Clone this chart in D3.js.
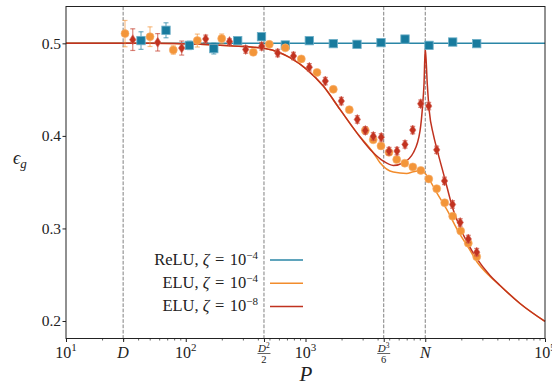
<!DOCTYPE html>
<html><head><meta charset="utf-8">
<script src="https://cdn.jsdelivr.net/npm/d3@7"></script>
<style>body{margin:0;background:#fff} svg text{font-family:"Liberation Serif","Times New Roman",serif !important;fill:#222}</style>
</head><body><svg id="c" width="552" height="387" font-family="Liberation Serif, serif"></svg>
<script>
// ---- theory curves ----
const reluCurveP = [10, 100000];
const reluCurveE = [0.5, 0.5];
const elu4CurveP = [10, 50, 131.5, 234, 450, 612, 742, 1023, 1408, 1941, 2677, 3683, 4190, 5410, 6998, 7948, 9341, 10283, 12460, 15110, 19510, 22880, 26900, 34730, 42100, 61830, 100000];
const elu4CurveE = [0.5, 0.5, 0.4989, 0.4973, 0.4946, 0.4899, 0.4845, 0.4719, 0.4538, 0.4286, 0.4035, 0.3818, 0.3710, 0.3609, 0.3595, 0.3613, 0.3627, 0.3573, 0.3386, 0.3205, 0.2935, 0.2795, 0.2643, 0.2481, 0.2384, 0.2189, 0.1995];
const elu8CurveP = [10, 50, 131.5, 234, 450, 612, 742, 1023, 1408, 1941, 2677, 3683, 4464, 5410, 6557, 7948, 9036, 9521, 9763, 10000, 10401, 10809, 11675, 12537, 14480, 16890, 19510, 22880, 26900, 34730, 42100, 61830, 100000];
const elu8CurveE = [0.5, 0.5, 0.4989, 0.4973, 0.4946, 0.4899, 0.4845, 0.4719, 0.4538, 0.4286, 0.4035, 0.3818, 0.3728, 0.3681, 0.3710, 0.3818, 0.4052, 0.4341, 0.4557, 0.495, 0.4557, 0.4268, 0.4016, 0.3854, 0.3551, 0.3227, 0.3011, 0.2827, 0.2676, 0.2492, 0.2384, 0.2189, 0.1995];

// ---- simulation points ----
const reluPtsP = [42.3, 68.4, 107.1, 171.5, 271.5, 429.1, 678.2, 1076, 1707, 2692, 4271, 6776, 10750, 16950, 26900];
const reluPtsE = [0.503, 0.5141, 0.4978, 0.4943, 0.5029, 0.5072, 0.4982, 0.5029, 0.4997, 0.4989, 0.5008, 0.5046, 0.4978, 0.5014, 0.4997];
const reluPtsErr = [0.0095, 0.0081, 0.0045, 0.0058, 0.003, 0.002, 0.002, 0.002, 0.002, 0.002, 0.002, 0.002, 0.002, 0.002, 0.002];

const elu4PtsP = [31.1, 50.3, 78.7, 124.9, 199.6, 366.6, 498.5, 678.2, 922.5, 1247, 1707, 2322, 3158, 3676, 4271, 4982, 5776, 6750, 7873, 9180, 10705, 12460, 14540, 16950, 19770, 22880, 26900];
const elu4PtsE = [0.5105, 0.5072, 0.4928, 0.503, 0.5051, 0.4903, 0.4989, 0.4951, 0.4832, 0.4686, 0.4503, 0.4283, 0.4059, 0.3958, 0.3892, 0.3822, 0.3744, 0.3705, 0.3665, 0.3627, 0.3535, 0.343, 0.3278, 0.3133, 0.2973, 0.2841, 0.2694];
const elu4PtsErr = [0.0142, 0.0106, 0.0045, 0.007, 0.005, 0.003, 0.002, 0.002, 0.002, 0.002, 0.002, 0.002, 0.002, 0.002, 0.002, 0.002, 0.002, 0.002, 0.002, 0.002, 0.002, 0.002, 0.002, 0.002, 0.002, 0.002, 0.002];

const elu8PtsP = [36.1, 58.3, 92.5, 146.7, 231.9, 316.7, 430.7, 586, 793.8, 1076, 1463, 1991, 2707, 3158, 3683, 4288, 4982, 5809, 6776, 7858, 9162, 10686, 12460, 14480, 16890, 19590, 22880, 26900];
const elu8PtsE = [0.504, 0.5011, 0.4949, 0.5048, 0.5019, 0.4933, 0.4968, 0.4895, 0.4863, 0.4741, 0.4592, 0.4376, 0.4178, 0.4059, 0.3995, 0.3984, 0.3836, 0.3836, 0.3908, 0.4063, 0.4348, 0.4322, 0.3849, 0.3514, 0.3259, 0.3065, 0.2886, 0.2744];
const elu8PtsErr = [0.0117, 0.0094, 0.0076, 0.0041, 0.003, 0.004, 0.004, 0.004, 0.004, 0.004, 0.004, 0.004, 0.004, 0.004, 0.004, 0.004, 0.004, 0.004, 0.004, 0.004, 0.004, 0.004, 0.004, 0.004, 0.004, 0.004, 0.004, 0.004];

// ---- ticks / annotations ----
const yTicks = [0.2, 0.3, 0.4, 0.5];
const xPowerTicks = [10, 100, 1000, 100000];
const xPowerExp = ["1", "2", "3", "5"];
const refLines = [30, 450, 4500, 10000]; // D, D^2/2, D^3/6, N
const legendLabels = ["ReLU, ", "ELU, ", "ELU, "];
const legendExp = ["\u22124", "\u22124", "\u22128"];

const teal = "#187b9e", orange = "#f39539", red = "#c2321f";
const tealLine = "#2a86a6", orangeLine = "#f28c2c", redLine = "#c0321f";

const svg = d3.select("#c");
const x = d3.scaleLog().domain([10, 1e5]).range([66, 545]);
const y = d3.scaleLinear().domain([0.1811, 0.5398]).range([338.5, 6.5]);

// reference dashed lines
svg.append("g").selectAll("line").data(refLines).join("line")
  .attr("x1", d => x(d)).attr("x2", d => x(d)).attr("y1", 6.5).attr("y2", 338.5)
  .attr("stroke", "#808080").attr("stroke-width", 1).attr("stroke-dasharray", "3.7,1.6");

// curves
const line = d3.line().x(d => x(d[0])).y(d => y(d[1])).curve(d3.curveMonotoneX);
function curve(P, E, color) {
  svg.append("path").datum(P.map((p, i) => [p, E[i]])).attr("d", line)
    .attr("fill", "none").attr("stroke", color).attr("stroke-width", 1.5);
}
curve(reluCurveP, reluCurveE, tealLine);
curve(elu4CurveP, elu4CurveE, orangeLine);
curve(elu8CurveP, elu8CurveE, redLine);

// error bars + markers
function errbars(P, E, Er, color) {
  const g = svg.append("g").attr("stroke", color).attr("stroke-opacity", 0.6).attr("stroke-width", 1.2);
  P.forEach((p, i) => {
    const cx = x(p), y1 = y(E[i] + Er[i]), y2 = y(E[i] - Er[i]);
    g.append("line").attr("x1", cx).attr("x2", cx).attr("y1", y1).attr("y2", y2);
    g.append("line").attr("x1", cx - 2.5).attr("x2", cx + 2.5).attr("y1", y1).attr("y2", y1);
    g.append("line").attr("x1", cx - 2.5).attr("x2", cx + 2.5).attr("y1", y2).attr("y2", y2);
  });
}
errbars(reluPtsP, reluPtsE, reluPtsErr, teal);
svg.append("g").selectAll("rect").data(reluPtsP.map((p, i) => [p, reluPtsE[i]])).join("rect")
  .attr("x", d => x(d[0]) - 4.2).attr("y", d => y(d[1]) - 4.2).attr("width", 8.4).attr("height", 8.4)
  .attr("fill", teal).attr("stroke", "#6fb0c8").attr("stroke-width", 0.8);

errbars(elu4PtsP, elu4PtsE, elu4PtsErr, orange);
svg.append("g").selectAll("circle").data(elu4PtsP.map((p, i) => [p, elu4PtsE[i]])).join("circle")
  .attr("cx", d => x(d[0])).attr("cy", d => y(d[1])).attr("r", 4)
  .attr("fill", orange).attr("stroke", "#f6b070").attr("stroke-width", 0.6);

errbars(elu8PtsP, elu8PtsE, elu8PtsErr, red);
svg.append("g").selectAll("path").data(elu8PtsP.map((p, i) => [p, elu8PtsE[i]])).join("path")
  .attr("d", d => { const cx = x(d[0]), cy = y(d[1]); return `M${cx},${cy-5}L${cx+3.2},${cy}L${cx},${cy+5}L${cx-3.2},${cy}Z`; })
  .attr("fill", red).attr("stroke", "#d46a5c").attr("stroke-width", 0.6);

// frame
svg.append("rect").attr("x", 66).attr("y", 6.5).attr("width", 479).attr("height", 332)
  .attr("fill", "none").attr("stroke", "#222").attr("stroke-width", 1);

// y axis
const yAxis = svg.append("g").attr("transform", "translate(66,0)")
  .call(d3.axisLeft(y).tickValues(yTicks).tickSize(3.5).tickFormat(d3.format(".1f")));
yAxis.attr("font-family", "Liberation Serif, serif");
yAxis.select(".domain").remove();
yAxis.selectAll("text").attr("font-size", 15.5).attr("x", -5).attr("fill", "#222");
yAxis.selectAll("line").attr("stroke", "#222");

// x axis major + minor ticks
const minor = [];
[10, 100, 1000, 10000].forEach(b => { for (let k = 2; k <= 9; k++) minor.push(b * k); });
const xMinor = svg.append("g").attr("transform", "translate(0,338.5)")
  .call(d3.axisBottom(x).tickValues(minor).tickSize(2).tickFormat(""));
xMinor.select(".domain").remove();
xMinor.selectAll("line").attr("stroke", "#222").attr("stroke-width", 0.7);
const xMajor = svg.append("g").attr("transform", "translate(0,338.5)")
  .call(d3.axisBottom(x).tickValues(xPowerTicks.concat(refLines)).tickSize(3.5).tickFormat(""));
xMajor.select(".domain").remove();
xMajor.selectAll("line").attr("stroke", "#222");

// x tick labels
const lab = svg.append("g").attr("font-size", 16);
xPowerTicks.forEach((v, i) => {
  const t = lab.append("text").attr("x", x(v)).attr("y", 357.5).attr("text-anchor", "middle");
  t.append("tspan").text("10");
  t.append("tspan").attr("font-size", 11).attr("dy", -6.5).text(xPowerExp[i]);
});
lab.append("text").attr("x", x(refLines[0])).attr("y", 357.5).attr("text-anchor", "middle").attr("font-style", "italic").text("D");
lab.append("text").attr("x", x(refLines[3])).attr("y", 357.5).attr("text-anchor", "middle").attr("font-style", "italic").text("N");
function frac(v, den, exp) {
  const cx = x(v);
  const t = lab.append("text").attr("x", cx).attr("y", 351.5).attr("text-anchor", "middle").attr("font-size", 11);
  t.append("tspan").attr("font-style", "italic").text("D");
  t.append("tspan").attr("font-size", 7.5).attr("dy", -4).text(exp);
  lab.append("line").attr("x1", cx - 6.5).attr("x2", cx + 6.5).attr("y1", 353.5).attr("y2", 353.5).attr("stroke", "#222").attr("stroke-width", 0.7);
  lab.append("text").attr("x", cx).attr("y", 362.5).attr("text-anchor", "middle").attr("font-size", 10.5).text(den);
}
frac(refLines[1], "2", "2");
frac(refLines[2], "6", "3");

// axis labels
svg.append("text").attr("x", 306).attr("y", 381).attr("text-anchor", "middle").attr("font-size", 21).attr("font-style", "italic").text("P");
const yl = svg.append("text").attr("x", 13).attr("y", 164).attr("font-size", 18);
yl.append("tspan").attr("font-style", "italic").text("\u03F5");
yl.append("tspan").attr("font-size", 13).attr("dy", 4).attr("font-style", "italic").text("g");

// legend
const legColors = [tealLine, orangeLine, redLine];
legendLabels.forEach((s, i) => {
  const cy = 260 + i * 23.2;
  const t = svg.append("text").attr("x", 258).attr("y", cy + 5).attr("text-anchor", "end").attr("font-size", 16.5);
  t.append("tspan").text(s);
  t.append("tspan").attr("font-style", "italic").text("\u03B6");
  t.append("tspan").text("\u2004=\u200410");
  t.append("tspan").attr("font-size", 11).attr("dy", -6.5).text(legendExp[i]);
  svg.append("line").attr("x1", 270).attr("x2", 303).attr("y1", cy).attr("y2", cy)
    .attr("stroke", legColors[i]).attr("stroke-width", 1.5);
});
</script></body></html>
